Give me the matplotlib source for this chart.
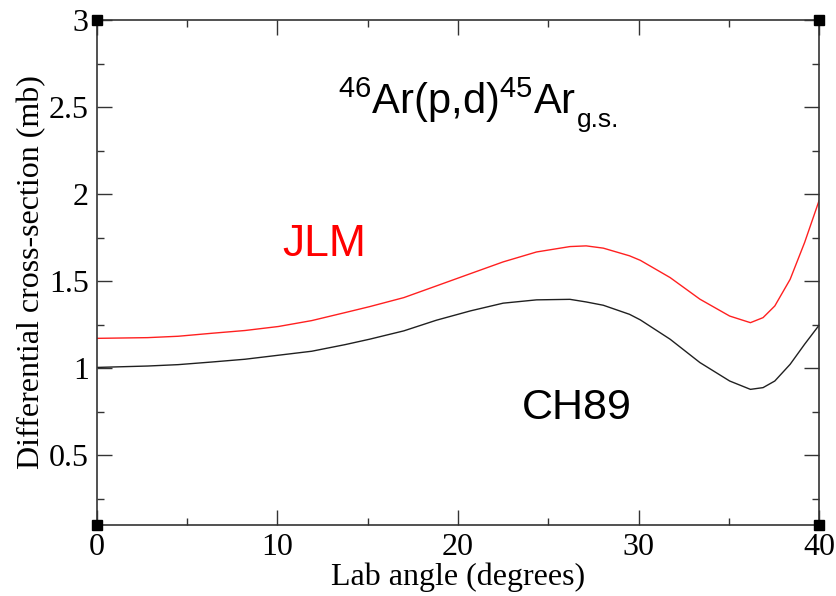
import numpy as np
import matplotlib
matplotlib.use("Agg")
import matplotlib.pyplot as plt
from matplotlib.ticker import MultipleLocator

# angles (deg) and cross-sections (mb) for the two optical potentials
angle = [0, 2.8, 4.5, 6.35, 8.2, 10.05, 11.9, 13.75, 15.1, 17.0, 18.8, 20.7, 22.5, 24.35,
         26.2, 27.1, 28.05, 29.5, 30.1, 31.75, 33.4, 35.05, 36.2, 36.9, 37.55, 38.4, 39.2, 40]
jlm = [1.172, 1.176, 1.184, 1.201, 1.217, 1.24, 1.274, 1.32, 1.354, 1.406, 1.473, 1.544, 1.611, 1.668,
       1.699, 1.703, 1.69, 1.646, 1.62, 1.521, 1.397, 1.30, 1.262, 1.291, 1.358, 1.511, 1.722, 1.962]
ch89 = [1.005, 1.013, 1.021, 1.036, 1.052, 1.075, 1.098, 1.136, 1.167, 1.215, 1.276, 1.33, 1.374, 1.393,
        1.396, 1.381, 1.362, 1.31, 1.278, 1.167, 1.033, 0.927, 0.879, 0.889, 0.927, 1.023, 1.138, 1.247]

plt.rcParams['mathtext.fontset'] = 'custom'
plt.rcParams['mathtext.rm'] = 'Liberation Sans'
plt.rcParams['mathtext.it'] = 'Liberation Sans'

fig = plt.figure(figsize=(8.36, 5.96), dpi=100)
ax = fig.add_axes([0.116, 0.1191, 0.8637, 0.8473])

ax.plot(angle, jlm, color='#ff2020', lw=1.0)
ax.plot(angle, ch89, color='#202020', lw=1.0)

ax.set_xlim(0, 40)
ax.set_ylim(0.1, 3)
ax.xaxis.set_major_locator(MultipleLocator(10))
ax.xaxis.set_minor_locator(MultipleLocator(5))
ax.yaxis.set_minor_locator(MultipleLocator(0.25))
ax.tick_params(which='both', direction='in', top=True, right=True, width=1.0, color='#333333')
ax.tick_params(which='major', length=11, labelsize=23, pad=6)
ax.tick_params(which='minor', length=5)
ax.set_yticks([0.5, 1, 1.5, 2, 2.5, 3])
ax.set_yticklabels(['0.5', '1', '1.5', '2', '2.5', '3'])
for lab in ax.get_xticklabels() + ax.get_yticklabels():
    lab.set_fontfamily('Liberation Serif')
for s in ax.spines.values():
    s.set_linewidth(1.2)
    s.set_color('#333333')

ax.set_xlabel('Lab angle (degrees)', fontfamily='Liberation Serif', fontsize=23, labelpad=0)
ax.set_ylabel('Differential cross-section (mb)', fontfamily='Liberation Serif', fontsize=23, labelpad=2)

title = ax.text(13.35, 2.46, r'$^{46}$Ar(p,d)$^{45}$Ar', fontfamily='Liberation Sans',
                fontsize=30, va='baseline', ha='left')
ax.annotate('g.s.', xy=(1, 0), xycoords=title, xytext=(0.5, -1.5), textcoords='offset points',
            fontfamily='Liberation Sans', fontsize=19, va='baseline', ha='left')
ax.text(10.25, 1.644, 'JLM', color='red', fontfamily='Liberation Sans', fontsize=32,
        va='baseline', ha='left')
ax.text(23.55, 0.707, 'CH89', color='black', fontfamily='Liberation Sans', fontsize=31,
        va='baseline', ha='left')

# corner handles
ax.plot([0, 0, 40, 40], [0.1, 3, 0.1, 3], ls='none', marker='s', ms=7, color='black',
        clip_on=False, zorder=5)

fig.savefig('out.png', dpi=100)
